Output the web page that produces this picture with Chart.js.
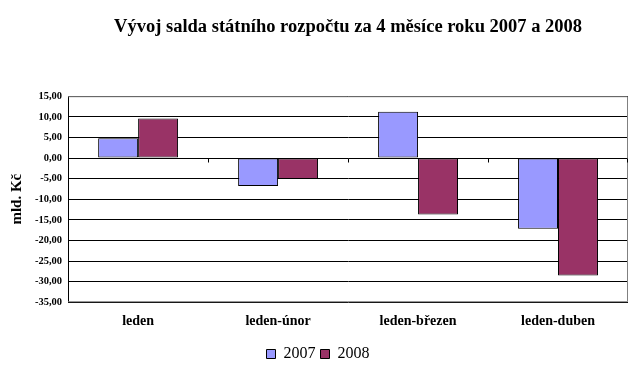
<!DOCTYPE html>
<html>
<head>
<meta charset="utf-8">
<script src="https://cdn.jsdelivr.net/npm/chart.js@4"></script>
<style>
  html, body { margin: 0; padding: 0; background: #fff; }
  #wrap { width: 637px; height: 369px; }
</style>
</head>
<body>
<div id="wrap"><canvas id="myChart"></canvas></div>
<script>
const categories = ['leden', 'leden-únor', 'leden-březen', 'leden-duben'];
const values2007 = [4.8, -6.8, 11.2, -17.2];
const values2008 = [9.6, -5.1, -13.7, -28.5];
const yTicks = [15, -35, 5]; // max, min, step

const serif = '"Liberation Serif", "Times New Roman", serif';
Chart.defaults.font.family = serif;

// ramecek plochy grafu (sede hrany) + znacky kategorii na nulove ose
const frame = {
    id: 'frame',
    beforeDatasetsDraw(chart) {
        const { ctx, chartArea: a, scales } = chart;
        ctx.save();
        ctx.strokeStyle = '#808080';
        ctx.lineWidth = 1;
        ctx.beginPath();
        ctx.moveTo(a.left, a.top + 0.5);
        ctx.lineTo(a.right - 0.5, a.top + 0.5);
        ctx.lineTo(a.right - 0.5, a.bottom - 0.5);
        ctx.lineTo(a.left, a.bottom - 0.5);
        ctx.stroke();

        const y0 = Math.round(scales.y.getPixelForValue(0)) + 0.5;
        ctx.strokeStyle = '#000';
        ctx.beginPath();
        for (let i = 0; i <= categories.length; i++) {
            let x;
            if (i === 0) x = a.left;
            else if (i === categories.length) x = a.right - 1;
            else x = (scales.x.getPixelForValue(i - 1) + scales.x.getPixelForValue(i)) / 2;
            x = Math.round(x) + 0.5;
            ctx.moveTo(x, y0);
            ctx.lineTo(x, y0 + 4);
        }
        ctx.stroke();
        ctx.restore();
    }
};

new Chart(document.getElementById('myChart'), {
    type: 'bar',
    data: {
        labels: categories,
        datasets: [{
            label: '2007',
            data: values2007,
            backgroundColor: '#9999FF',
            borderColor: '#000',
            borderWidth: 1,
            borderSkipped: false
        }, {
            label: '2008',
            data: values2008,
            backgroundColor: '#993366',
            borderColor: '#000',
            borderWidth: 1,
            borderSkipped: false
        }]
    },
    options: {
        responsive: true,
        maintainAspectRatio: false,
        animation: false,
        layout: { padding: { left: 8, right: 9, top: 0, bottom: -3 } },
        plugins: {
            title: {
                display: true,
                fullSize: false,
                text: 'Vývoj salda státního rozpočtu za 4 měsíce roku 2007 a 2008',
                color: '#000',
                font: { family: serif, size: 18.5, weight: 'bold' },
                padding: { top: 16, bottom: 58 }
            },
            legend: {
                position: 'bottom',
                labels: {
                    color: '#000',
                    font: { family: serif, size: 16 },
                    boxWidth: 9,
                    boxHeight: 9,
                    padding: 5
                }
            },
            tooltip: { enabled: false }
        },
        datasets: {
            bar: { categoryPercentage: 0.571, barPercentage: 1 }
        },
        scales: {
            x: {
                grid: { display: false, drawTicks: false },
                border: { display: false },
                ticks: {
                    color: '#000',
                    padding: 11,
                    maxRotation: 0,
                    font: { family: serif, size: 14, weight: 'bold' }
                }
            },
            y: {
                min: yTicks[1],
                max: yTicks[0],
                grid: { color: '#000', drawTicks: false },
                border: { color: '#000' },
                ticks: {
                    stepSize: yTicks[2],
                    color: '#000',
                    padding: 6,
                    font: { family: serif, size: 10.5, weight: 'bold' },
                    callback: v => v.toFixed(2).replace('.', ',')
                },
                title: {
                    display: true,
                    text: 'mld. Kč',
                    color: '#000',
                    font: { family: serif, size: 15, weight: 'bold' },
                    padding: { top: 0, bottom: 3 }
                }
            }
        }
    },
    plugins: [frame]
});
</script>
</body>
</html>
